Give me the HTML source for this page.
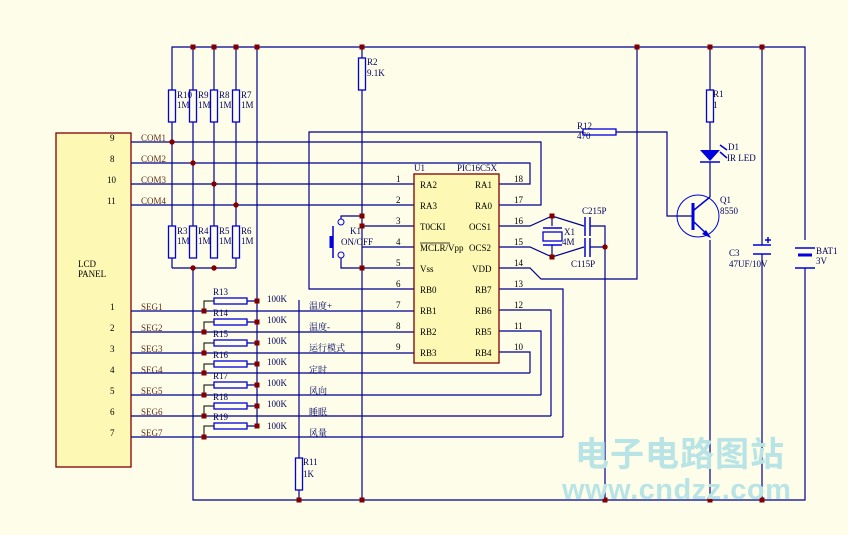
<!DOCTYPE html>
<html><head><meta charset="utf-8"><style>
html,body{margin:0;padding:0;background:#fdfde9;}
svg{display:block;}
text{font-family:"Liberation Serif","Noto Serif CJK SC",serif;font-size:9px;fill:#000060;}
.b{fill:#603018;}
.k{fill:#000;}
.w{stroke:#000090;stroke-width:1.2;fill:none;}
.r{stroke:#0000e0;stroke-width:1.3;fill:#fdfde9;}
.bl{stroke:#000;stroke-width:1;fill:none;}
.d{fill:#800000;}
</style></head><body>
<svg width="848" height="535" viewBox="0 0 848 535" xmlns="http://www.w3.org/2000/svg">
<rect width="848" height="535" fill="#fdfde9"/>
<!-- LCD -->
<rect x="56" y="133" width="75" height="334" fill="#fdf8b4" stroke="#800000" stroke-width="1.3"/>
<text x="110" y="141" class="k">9</text><text x="110" y="162" class="k">8</text><text x="107" y="183" class="k">10</text><text x="107" y="204" class="k">11</text>
<text x="78" y="267" class="k">LCD</text><text x="78" y="277" class="k">PANEL</text>
<text x="110" y="310" class="k">1</text><text x="110" y="331" class="k">2</text><text x="110" y="352" class="k">3</text><text x="110" y="373" class="k">4</text><text x="110" y="394" class="k">5</text><text x="110" y="415" class="k">6</text><text x="110" y="436" class="k">7</text>
<text x="141" y="141" class="b">COM1</text><text x="141" y="162" class="b">COM2</text><text x="141" y="183" class="b">COM3</text><text x="141" y="204" class="b">COM4</text>
<text x="141" y="310" class="b">SEG1</text><text x="141" y="331" class="b">SEG2</text><text x="141" y="352" class="b">SEG3</text><text x="141" y="373" class="b">SEG4</text><text x="141" y="394" class="b">SEG5</text><text x="141" y="415" class="b">SEG6</text><text x="141" y="436" class="b">SEG7</text>

<g class="w">
<!-- rails -->
<path d="M172 258 V47 H805 V240 M805 268 V500 H193 V268"/>
<path d="M172 268 H236"/>
<path d="M193 47 V258 M214 47 V258 M236 47 V258 M257 47 V426"/>
<path d="M172 258 V268 M236 258 V268"/>
<!-- COM lines -->
<path d="M131 142 H541 V205 H499"/>
<path d="M131 163 H530 V184 H499"/>
<path d="M131 184 H414 M131 205 H414"/>
<!-- R2 / 362 -->
<path d="M362 47 V500"/>
<path d="M362 226 H414 M362 247 H414 M362 268 H414 M362 216 H341 V219 M341 258 V268 H362"/>
<!-- RB0 to R12 -->
<path d="M414 289 H309 V132 H583 M616 132 H667 V216 H693"/>
<!-- crystal -->
<path d="M499 226 H530 L552 216 L584 226 M499 247 H530 L552 257 L584 247"/>
<path d="M552 216 V226 M552 245 V257"/>
<path d="M590 226 H605 V500 M590 247 H605"/>
<!-- VDD -->
<path d="M499 268 H530 L541 279 H637 V47"/>
<!-- RB right -->
<path d="M499 289 H563 V437 M499 310 H551 V416 M499 331 H541 V395 M499 352 H530 V373"/>
<!-- SEG lines -->
<path d="M131 311 H414 M131 332 H414 M131 353 H414 M131 373 H530 M131 395 H541 M131 416 H551 M131 437 H563"/>
<!-- resistor legs right -->
<path d="M247 301 H257 M247 322 H257 M247 343 H257 M247 364 H257 M247 385 H257 M247 406 H257 M247 426 H257"/>
<!-- R11 -->
<path d="M299 300 V500"/>
<!-- Q1 column -->
<path d="M710 47 V150 M710 162 V197 M710 240 V500"/>
<path d="M762 47 V245 M762 254 V500"/>
<circle cx="698" cy="216" r="21" stroke="#0000e0" stroke-width="1"/>
</g>
<!-- left legs black -->
<g class="bl"><path d="M204 311 V301 H214 M204 332 V322 H214 M204 353 V343 H214 M204 373 V364 H214 M204 395 V385 H214 M204 416 V406 H214 M204 437 V426 H214"/></g>
<!-- resistors -->
<g class="r">
<rect x="168.5" y="90" width="7" height="32"/><rect x="189.5" y="90" width="7" height="32"/><rect x="210.5" y="90" width="7" height="32"/><rect x="232.5" y="90" width="7" height="32"/>
<rect x="168.5" y="226" width="7" height="32"/><rect x="189.5" y="226" width="7" height="32"/><rect x="210.5" y="226" width="7" height="32"/><rect x="232.5" y="226" width="7" height="32"/>
<rect x="358.5" y="58" width="7" height="32"/>
<rect x="706.5" y="90" width="7" height="32"/>
<rect x="295.5" y="458" width="7" height="32"/>
<rect x="583" y="129" width="33" height="6"/>
<rect x="214" y="298" width="33" height="6"/><rect x="214" y="319" width="33" height="6"/><rect x="214" y="340" width="33" height="6"/><rect x="214" y="361" width="33" height="6"/><rect x="214" y="382" width="33" height="6"/><rect x="214" y="403" width="33" height="6"/><rect x="214" y="423" width="33" height="6"/>
<rect x="543" y="232" width="19" height="9"/>
</g>
<!-- crystal plates, caps -->
<g stroke="#0000e0" stroke-width="1.5" fill="none">
<path d="M543 228 H562 M543 245 H562"/>
<path d="M585 217 V236 M590 217 V236 M585 238 V257 M590 238 V257"/>
<path d="M753 245 H771 M753 254 H771 M768 237 V243 M765 240 H771"/>
<path d="M795 248 H815 M795 268 H815"/>
<path d="M333 226 V258"/>
<path d="M693 203 V230" stroke-width="3"/>
<path d="M694 210 L710 197 M694 222 L710 237"/>
<path d="M700 162 H720 M720 145 L727 150 M720 152 L727 158"/>
</g>
<path d="M798 255 H812" stroke="#0000e0" stroke-width="3"/>
<path d="M331 236 V248" stroke="#0000e0" stroke-width="3"/>
<polygon points="700,150 720,150 710,161" fill="#0000e0"/>
<polygon points="711,238 702,234 706,230" fill="#0000e0"/>
<circle cx="341" cy="222" r="3" fill="none" stroke="#0000e0"/><circle cx="341" cy="255" r="3" fill="none" stroke="#0000e0"/>
<!-- chip -->
<rect x="414" y="174" width="85" height="189" fill="#fdf8b4" stroke="#800000" stroke-width="1.3"/>
<text x="414" y="171">U1</text><text x="457" y="171">PIC16C5X</text>
<g class="k">
<text x="420" y="188" class="k">RA2</text><text x="420" y="209" class="k">RA3</text><text x="420" y="230" class="k">T0CKI</text><text x="420" y="251" class="k">MCLR/Vpp</text><text x="420" y="272" class="k">Vss</text><text x="420" y="293" class="k">RB0</text><text x="420" y="314" class="k">RB1</text><text x="420" y="335" class="k">RB2</text><text x="420" y="356" class="k">RB3</text>
<text x="475" y="188" class="k">RA1</text><text x="475" y="209" class="k">RA0</text><text x="469" y="230" class="k">OCS1</text><text x="469" y="251" class="k">OCS2</text><text x="472" y="272" class="k">VDD</text><text x="475" y="293" class="k">RB7</text><text x="475" y="314" class="k">RB6</text><text x="475" y="335" class="k">RB5</text><text x="475" y="356" class="k">RB4</text>
<text x="396" y="182" class="k">1</text><text x="396" y="203" class="k">2</text><text x="396" y="224" class="k">3</text><text x="396" y="245" class="k">4</text><text x="396" y="266" class="k">5</text><text x="396" y="287" class="k">6</text><text x="396" y="308" class="k">7</text><text x="396" y="329" class="k">8</text><text x="396" y="350" class="k">9</text>
<text x="514" y="182" class="k">18</text><text x="514" y="203" class="k">17</text><text x="514" y="224" class="k">16</text><text x="514" y="245" class="k">15</text><text x="514" y="266" class="k">14</text><text x="514" y="287" class="k">13</text><text x="514" y="308" class="k">12</text><text x="514" y="329" class="k">11</text><text x="514" y="350" class="k">10</text>
</g>
<line x1="420" y1="243" x2="450" y2="243" stroke="#000" stroke-width="0.8"/>
<!-- labels -->
<text x="177" y="98">R10</text><text x="177" y="108">1M</text><text x="198" y="98">R9</text><text x="198" y="108">1M</text><text x="219" y="98">R8</text><text x="219" y="108">1M</text><text x="241" y="98">R7</text><text x="241" y="108">1M</text>
<text x="177" y="234">R3</text><text x="177" y="244">1M</text><text x="198" y="234">R4</text><text x="198" y="244">1M</text><text x="219" y="234">R5</text><text x="219" y="244">1M</text><text x="241" y="234">R6</text><text x="241" y="244">1M</text>
<text x="367" y="65">R2</text><text x="367" y="76">9.1K</text>
<text x="577" y="129">R12</text><text x="577" y="139">470</text>
<text x="350" y="234">K1</text><text x="341" y="245">ON/OFF</text>
<text x="564" y="235">X1</text><text x="562" y="245">4M</text>
<text x="582" y="214">C215P</text><text x="571" y="267">C115P</text>
<text x="713" y="97">R1</text><text x="713" y="108">1</text>
<text x="728" y="150">D1</text><text x="727" y="161">IR LED</text>
<text x="720" y="203">Q1</text><text x="720" y="214">8550</text>
<text x="729" y="256">C3</text><text x="729" y="267">47UF/10V</text>
<text x="816" y="254">BAT1</text><text x="816" y="264">3V</text>
<text x="303" y="465">R11</text><text x="303" y="477">1K</text>
<text x="213" y="295">R13</text><text x="213" y="316">R14</text><text x="213" y="337">R15</text><text x="213" y="358">R16</text><text x="213" y="379">R17</text><text x="213" y="400">R18</text><text x="213" y="420">R19</text>
<text x="267" y="302">100K</text><text x="267" y="323">100K</text><text x="267" y="344">100K</text><text x="267" y="365">100K</text><text x="267" y="386">100K</text><text x="267" y="407">100K</text><text x="267" y="429">100K</text>
<text x="309" y="309">温度+</text><text x="309" y="330">温度-</text><text x="309" y="351">运行模式</text><text x="309" y="373">定时</text><text x="309" y="394">风向</text><text x="309" y="415">睡眠</text><text x="309" y="436">风量</text>
<!-- dots -->
<g class="d">
<rect x="190.5" y="44.5" width="5" height="5"/><rect x="211.5" y="44.5" width="5" height="5"/><rect x="233.5" y="44.5" width="5" height="5"/><rect x="254.5" y="44.5" width="5" height="5"/><rect x="359.5" y="44.5" width="5" height="5"/><rect x="634.5" y="44.5" width="5" height="5"/><rect x="707.5" y="44.5" width="5" height="5"/><rect x="759.5" y="44.5" width="5" height="5"/>
<circle cx="172" cy="142" r="2.7"/><circle cx="193" cy="163" r="2.7"/><circle cx="214" cy="184" r="2.7"/><circle cx="236" cy="205" r="2.7"/>
<circle cx="193" cy="268" r="2.7"/><circle cx="214" cy="268" r="2.7"/>
<rect x="359.5" y="213.5" width="5" height="5"/><rect x="359.5" y="223.5" width="5" height="5"/><rect x="359.5" y="265.5" width="5" height="5"/>
<rect x="549.5" y="213.5" width="5" height="5"/><rect x="549.5" y="254.5" width="5" height="5"/><circle cx="605" cy="247" r="2.7"/>
<rect x="201.5" y="308.5" width="5" height="5"/><rect x="201.5" y="329.5" width="5" height="5"/><rect x="201.5" y="350.5" width="5" height="5"/><rect x="201.5" y="370.5" width="5" height="5"/><rect x="201.5" y="392.5" width="5" height="5"/><rect x="201.5" y="413.5" width="5" height="5"/><rect x="201.5" y="434.5" width="5" height="5"/>
<rect x="254.5" y="298.5" width="5" height="5"/><rect x="254.5" y="319.5" width="5" height="5"/><rect x="254.5" y="340.5" width="5" height="5"/><rect x="254.5" y="361.5" width="5" height="5"/><rect x="254.5" y="382.5" width="5" height="5"/><rect x="254.5" y="403.5" width="5" height="5"/><rect x="254.5" y="423.5" width="5" height="5"/>
<rect x="296.5" y="497.5" width="5" height="5"/><rect x="359.5" y="497.5" width="5" height="5"/><rect x="602.5" y="497.5" width="5" height="5"/><rect x="707.5" y="497.5" width="5" height="5"/><rect x="759.5" y="497.5" width="5" height="5"/>
</g>
<!-- watermark -->
<text x="575" y="466" style="font-family:'Noto Sans CJK SC',sans-serif;font-size:34px;font-weight:bold;fill:#b8e4e6;letter-spacing:1px">电子电路图站</text>
<text x="562" y="499" style="font-family:'Liberation Sans',sans-serif;font-size:29px;font-weight:bold;fill:#b8e4e6;letter-spacing:0.5px">www.cndzz.com</text>
</svg>
</body></html>
